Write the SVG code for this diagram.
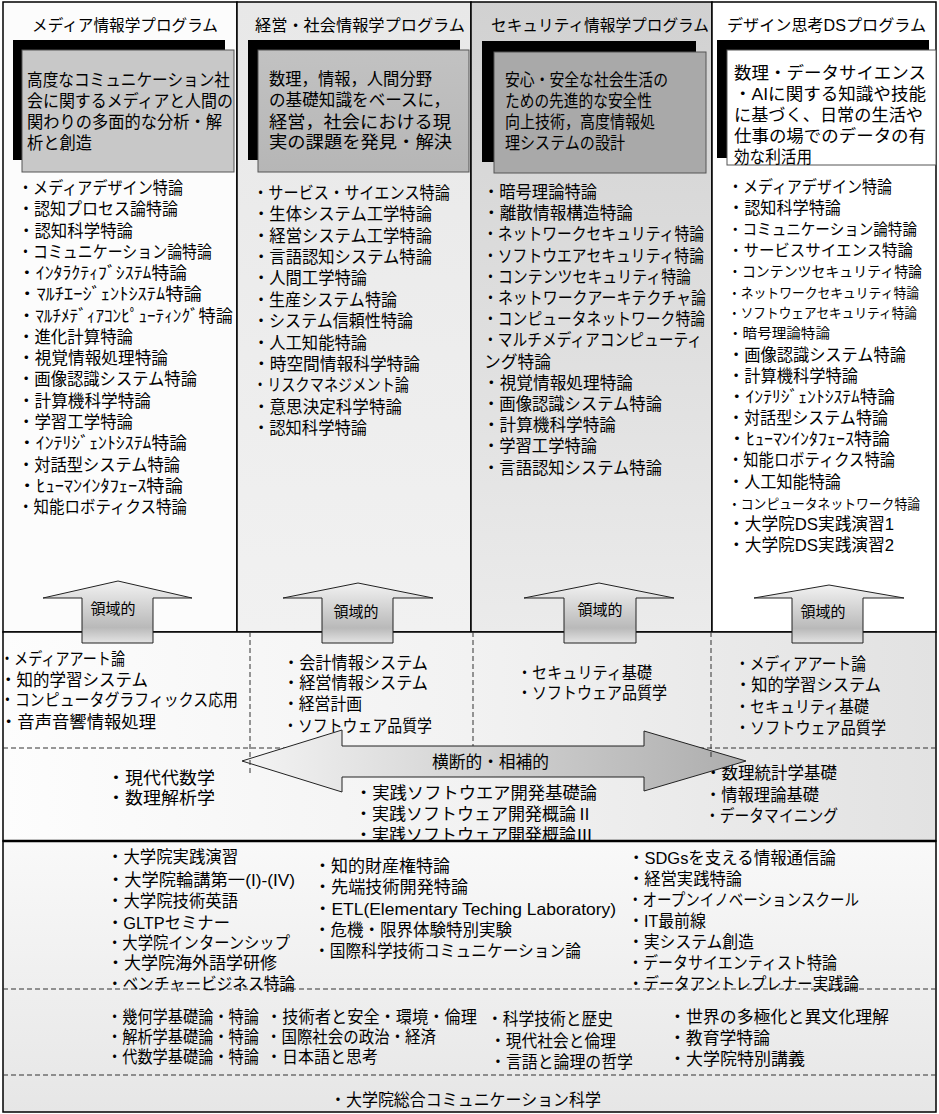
<svg xmlns="http://www.w3.org/2000/svg" width="939" height="1114" viewBox="0 0 939 1114">
<defs>
<style>
text{font-family:"Liberation Sans","Noto Sans CJK JP",sans-serif;fill:#000}
.hd{font-size:16px}
.bx{font-size:17px}
.li{font-size:17px}
.l4{font-size:16.5px}
.l4b{font-size:15.5px}
.l4c{font-size:14.5px}
.sm{font-size:13.5px}
.md{font-size:16.5px}
.lo{font-size:16.5px}
.lbl{font-size:15px}
.frame{stroke:#000;stroke-width:1.5}
.dash{stroke:#333;stroke-width:1;stroke-dasharray:5 3;fill:none}
.shadow{fill:#000}
.box{stroke:#555;stroke-width:1}
.arr{stroke:#222;stroke-width:1}
</style>
<linearGradient id="gCol2" x1="0" y1="0" x2="0" y2="1"><stop offset="0" stop-color="#e8e8e8"/><stop offset="1" stop-color="#f1f1f1"/></linearGradient>
<linearGradient id="gCol3" x1="0" y1="0" x2="0" y2="1"><stop offset="0" stop-color="#d1d1d1"/><stop offset="1" stop-color="#ebebeb"/></linearGradient>
<linearGradient id="gMid" x1="0" y1="0" x2="1" y2="0"><stop offset="0" stop-color="#fdfdfd"/><stop offset="0.5" stop-color="#f2f2f2"/><stop offset="1" stop-color="#e2e2e2"/></linearGradient>
<linearGradient id="gLow" x1="0" y1="0" x2="0" y2="1"><stop offset="0" stop-color="#f9f9f9"/><stop offset="1" stop-color="#e6e6e6"/></linearGradient>
<linearGradient id="gBox2" x1="0" y1="0" x2="0" y2="1"><stop offset="0" stop-color="#c2c2c2"/><stop offset="1" stop-color="#b6b6b6"/></linearGradient>
<linearGradient id="gArrV" x1="0" y1="0" x2="0" y2="1"><stop offset="0" stop-color="#f2f2f2"/><stop offset="0.75" stop-color="#b9b9b9"/><stop offset="1" stop-color="#e4e4e4"/></linearGradient>
<linearGradient id="gArrH" x1="0" y1="0" x2="1" y2="0"><stop offset="0" stop-color="#f4f4f4"/><stop offset="1" stop-color="#adadad"/></linearGradient>
</defs>

<g id="col-media">
<rect x="3" y="2" width="234" height="630" fill="#fcfcfc" class="frame"/>
<text class="hd" x="32" y="31" textLength="186" lengthAdjust="spacingAndGlyphs">メディア情報学プログラム</text>
<rect class="shadow" x="13" y="40" width="212" height="120"/>
<rect class="box" x="22" y="50" width="212" height="122" fill="#c8c8c8"/>
<text class="bx" x="27" y="86" textLength="203" lengthAdjust="spacingAndGlyphs">高度なコミュニケーション社</text>
<text class="bx" x="27" y="107" textLength="206" lengthAdjust="spacingAndGlyphs">会に関するメディアと人間の</text>
<text class="bx" x="27" y="128" textLength="195" lengthAdjust="spacingAndGlyphs">関わりの多面的な分析・解</text>
<text class="bx" x="27" y="149" textLength="65" lengthAdjust="spacingAndGlyphs">析と創造</text>
<text class="li" x="18" y="194" textLength="165" lengthAdjust="spacingAndGlyphs">・メディアデザイン特論</text>
<text class="li" x="18" y="215.3" textLength="160" lengthAdjust="spacingAndGlyphs">・認知プロセス論特論</text>
<text class="li" x="18" y="236.5" textLength="115" lengthAdjust="spacingAndGlyphs">・認知科学特論</text>
<text class="li" x="18" y="257.8" textLength="194" lengthAdjust="spacingAndGlyphs">・コミュニケーション論特論</text>
<text class="li" x="18" y="279.1" textLength="169" lengthAdjust="spacingAndGlyphs">・ｲﾝﾀﾗｸﾃｨﾌﾞｼｽﾃﾑ特論</text>
<text class="li" x="18" y="300.4" textLength="184" lengthAdjust="spacingAndGlyphs">・ﾏﾙﾁｴｰｼﾞｪﾝﾄｼｽﾃﾑ特論</text>
<text class="li" x="18" y="321.6" textLength="215" lengthAdjust="spacingAndGlyphs">・ﾏﾙﾁﾒﾃﾞｨｱｺﾝﾋﾟｭｰﾃｨﾝｸﾞ特論</text>
<text class="li" x="18" y="342.9" textLength="115" lengthAdjust="spacingAndGlyphs">・進化計算特論</text>
<text class="li" x="18" y="364.2" textLength="150" lengthAdjust="spacingAndGlyphs">・視覚情報処理特論</text>
<text class="li" x="18" y="385.4" textLength="179" lengthAdjust="spacingAndGlyphs">・画像認識システム特論</text>
<text class="li" x="18" y="406.7" textLength="133" lengthAdjust="spacingAndGlyphs">・計算機科学特論</text>
<text class="li" x="18" y="428" textLength="115" lengthAdjust="spacingAndGlyphs">・学習工学特論</text>
<text class="li" x="18" y="449.2" textLength="169" lengthAdjust="spacingAndGlyphs">・ｲﾝﾃﾘｼﾞｪﾝﾄｼｽﾃﾑ特論</text>
<text class="li" x="18" y="470.5" textLength="162" lengthAdjust="spacingAndGlyphs">・対話型システム特論</text>
<text class="li" x="18" y="491.8" textLength="165" lengthAdjust="spacingAndGlyphs">・ﾋｭｰﾏﾝｲﾝﾀﾌｪｰｽ特論</text>
<text class="li" x="18" y="513" textLength="169" lengthAdjust="spacingAndGlyphs">・知能ロボティクス特論</text>
</g>

<g id="col-management">
<rect x="237" y="2" width="234" height="630" fill="url(#gCol2)" class="frame"/>
<text class="hd" x="255" y="31" textLength="210" lengthAdjust="spacingAndGlyphs">経営・社会情報学プログラム</text>
<rect class="shadow" x="248" y="40" width="212" height="120"/>
<rect class="box" x="258" y="50" width="211" height="122" fill="url(#gBox2)"/>
<text class="bx" x="269" y="85" textLength="163" lengthAdjust="spacingAndGlyphs">数理，情報，人間分野</text>
<text class="bx" x="269" y="106" textLength="181" lengthAdjust="spacingAndGlyphs">の基礎知識をベースに，</text>
<text class="bx" x="269" y="128" textLength="182" lengthAdjust="spacingAndGlyphs">経営，社会における現</text>
<text class="bx" x="269" y="148" textLength="183" lengthAdjust="spacingAndGlyphs">実の課題を発見・解決</text>
<text class="li" x="253" y="199" textLength="197" lengthAdjust="spacingAndGlyphs">・サービス・サイエンス特論</text>
<text class="li" x="253" y="220.4" textLength="179" lengthAdjust="spacingAndGlyphs">・生体システム工学特論</text>
<text class="li" x="253" y="241.7" textLength="179" lengthAdjust="spacingAndGlyphs">・経営システム工学特論</text>
<text class="li" x="253" y="263.1" textLength="179" lengthAdjust="spacingAndGlyphs">・言語認知システム特論</text>
<text class="li" x="253" y="284.4" textLength="114" lengthAdjust="spacingAndGlyphs">・人間工学特論</text>
<text class="li" x="253" y="305.8" textLength="144" lengthAdjust="spacingAndGlyphs">・生産システム特論</text>
<text class="li" x="253" y="327.2" textLength="160" lengthAdjust="spacingAndGlyphs">・システム信頼性特論</text>
<text class="li" x="253" y="348.5" textLength="114" lengthAdjust="spacingAndGlyphs">・人工知能特論</text>
<text class="li" x="253" y="369.9" textLength="167" lengthAdjust="spacingAndGlyphs">・時空間情報科学特論</text>
<text class="li" x="253" y="391.2" textLength="156" lengthAdjust="spacingAndGlyphs">・リスクマネジメント論</text>
<text class="li" x="253" y="412.6" textLength="149" lengthAdjust="spacingAndGlyphs">・意思決定科学特論</text>
<text class="li" x="253" y="434" textLength="114" lengthAdjust="spacingAndGlyphs">・認知科学特論</text>
</g>

<g id="col-security">
<rect x="471" y="2" width="241" height="630" fill="url(#gCol3)" class="frame"/>
<text class="hd" x="491" y="31" textLength="218" lengthAdjust="spacingAndGlyphs">セキュリティ情報学プログラム</text>
<rect class="shadow" x="482" y="41" width="214" height="121"/>
<rect class="box" x="494" y="52" width="212" height="121" fill="#a9a9a9"/>
<text class="bx" x="505" y="86" textLength="163" lengthAdjust="spacingAndGlyphs">安心・安全な社会生活の</text>
<text class="bx" x="505" y="107" textLength="147" lengthAdjust="spacingAndGlyphs">ための先進的な安全性</text>
<text class="bx" x="505" y="128" textLength="150" lengthAdjust="spacingAndGlyphs">向上技術，高度情報処</text>
<text class="bx" x="505" y="149" textLength="120" lengthAdjust="spacingAndGlyphs">理システムの設計</text>
<text class="li" x="483" y="198" textLength="114" lengthAdjust="spacingAndGlyphs">・暗号理論特論</text>
<text class="li" x="483" y="219.2" textLength="150" lengthAdjust="spacingAndGlyphs">・離散情報構造特論</text>
<text class="li" x="483" y="240.4" textLength="221" lengthAdjust="spacingAndGlyphs">・ネットワークセキュリティ特論</text>
<text class="li" x="483" y="261.6" textLength="221" lengthAdjust="spacingAndGlyphs">・ソフトウエアセキュリティ特論</text>
<text class="li" x="483" y="282.8" textLength="208" lengthAdjust="spacingAndGlyphs">・コンテンツセキュリティ特論</text>
<text class="li" x="483" y="304" textLength="223" lengthAdjust="spacingAndGlyphs">・ネットワークアーキテクチャ論</text>
<text class="li" x="483" y="325.2" textLength="222" lengthAdjust="spacingAndGlyphs">・コンピュータネットワーク特論</text>
<text class="li" x="483" y="346.4" textLength="219" lengthAdjust="spacingAndGlyphs">・マルチメディアコンピューティ</text>
<text class="li" x="484" y="367.6" textLength="67" lengthAdjust="spacingAndGlyphs">ング特論</text>
<text class="li" x="483" y="388.8" textLength="150" lengthAdjust="spacingAndGlyphs">・視覚情報処理特論</text>
<text class="li" x="483" y="410" textLength="179" lengthAdjust="spacingAndGlyphs">・画像認識システム特論</text>
<text class="li" x="483" y="431.2" textLength="133" lengthAdjust="spacingAndGlyphs">・計算機科学特論</text>
<text class="li" x="483" y="452.4" textLength="114" lengthAdjust="spacingAndGlyphs">・学習工学特論</text>
<text class="li" x="483" y="473.6" textLength="179" lengthAdjust="spacingAndGlyphs">・言語認知システム特論</text>
</g>

<g id="col-design">
<rect x="712" y="2" width="224" height="630" fill="#ffffff" class="frame"/>
<text class="hd" x="727" y="31" textLength="199" lengthAdjust="spacingAndGlyphs">デザイン思考DSプログラム</text>
<rect class="shadow" x="717" y="40" width="212" height="118"/>
<rect class="box" x="727" y="50" width="209" height="115" fill="#ffffff"/>
<text class="bx" x="734" y="79" textLength="192" lengthAdjust="spacingAndGlyphs">数理・データサイエンス</text>
<text class="bx" x="734" y="100" textLength="192" lengthAdjust="spacingAndGlyphs">・AIに関する知識や技能</text>
<text class="bx" x="734" y="121" textLength="189" lengthAdjust="spacingAndGlyphs">に基づく、日常の生活や</text>
<text class="bx" x="734" y="142" textLength="192" lengthAdjust="spacingAndGlyphs">仕事の場でのデータの有</text>
<text class="bx" x="734" y="163" textLength="78" lengthAdjust="spacingAndGlyphs">効な利活用</text>
<text class="l4" x="728" y="193" textLength="164" lengthAdjust="spacingAndGlyphs">・メディアデザイン特論</text>
<text class="l4" x="728" y="214.1" textLength="113" lengthAdjust="spacingAndGlyphs">・認知科学特論</text>
<text class="l4b" x="728" y="235.1" textLength="189" lengthAdjust="spacingAndGlyphs">・コミュニケーション論特論</text>
<text class="l4b" x="728" y="256.2" textLength="185" lengthAdjust="spacingAndGlyphs">・サービスサイエンス特論</text>
<text class="l4c" x="728" y="277.2" textLength="194" lengthAdjust="spacingAndGlyphs">・コンテンツセキュリティ特論</text>
<text class="sm" x="728" y="298.3" textLength="191" lengthAdjust="spacingAndGlyphs">・ネットワークセキュリティ特論</text>
<text class="sm" x="728" y="318.4" textLength="189" lengthAdjust="spacingAndGlyphs">・ソフトウェアセキュリティ特論</text>
<text class="sm" x="728" y="338.4" textLength="102" lengthAdjust="spacingAndGlyphs">・暗号理論特論</text>
<text class="l4" x="728" y="360.5" textLength="178" lengthAdjust="spacingAndGlyphs">・画像認識システム特論</text>
<text class="l4" x="728" y="381.5" textLength="130" lengthAdjust="spacingAndGlyphs">・計算機科学特論</text>
<text class="l4" x="728" y="403" textLength="167" lengthAdjust="spacingAndGlyphs">・ｲﾝﾃﾘｼﾞｪﾝﾄｼｽﾃﾑ特論</text>
<text class="l4" x="728" y="424.2" textLength="160" lengthAdjust="spacingAndGlyphs">・対話型システム特論</text>
<text class="l4" x="728" y="445.2" textLength="162" lengthAdjust="spacingAndGlyphs">・ﾋｭｰﾏﾝｲﾝﾀﾌｪｰｽ特論</text>
<text class="l4" x="728" y="466.3" textLength="167" lengthAdjust="spacingAndGlyphs">・知能ロボティクス特論</text>
<text class="l4" x="728" y="487.8" textLength="113" lengthAdjust="spacingAndGlyphs">・人工知能特論</text>
<text class="sm" x="728" y="508.9" textLength="192" lengthAdjust="spacingAndGlyphs">・コンピュータネットワーク特論</text>
<text class="l4" x="728" y="530" textLength="166" lengthAdjust="spacingAndGlyphs">・大学院DS実践演習1</text>
<text class="l4" x="728" y="551" textLength="166" lengthAdjust="spacingAndGlyphs">・大学院DS実践演習2</text>
</g>

<g id="common-domain">
<rect x="3" y="632" width="933" height="209" fill="url(#gMid)" class="frame"/>
<line class="dash" x1="3" y1="748" x2="936" y2="748"/>
<line class="dash" x1="473" y1="632" x2="473" y2="760"/>
<text class="md" x="0" y="665" textLength="125" lengthAdjust="spacingAndGlyphs">・メディアアート論</text>
<text class="md" x="0" y="686" textLength="148" lengthAdjust="spacingAndGlyphs">・知的学習システム</text>
<text class="md" x="0" y="706" textLength="238" lengthAdjust="spacingAndGlyphs">・コンピュータグラフィックス応用</text>
<text class="md" x="0" y="728" textLength="156" lengthAdjust="spacingAndGlyphs">・音声音響情報処理</text>
<text class="md" x="283" y="669" textLength="145" lengthAdjust="spacingAndGlyphs">・会計情報システム</text>
<text class="md" x="283" y="689" textLength="145" lengthAdjust="spacingAndGlyphs">・経営情報システム</text>
<text class="md" x="283" y="710" textLength="79" lengthAdjust="spacingAndGlyphs">・経営計画</text>
<text class="md" x="283" y="732" textLength="149" lengthAdjust="spacingAndGlyphs">・ソフトウェア品質学</text>
<text class="md" x="517" y="679" textLength="135" lengthAdjust="spacingAndGlyphs">・セキュリティ基礎</text>
<text class="md" x="517" y="699" textLength="150" lengthAdjust="spacingAndGlyphs">・ソフトウェア品質学</text>
<text class="md" x="735" y="670" textLength="131" lengthAdjust="spacingAndGlyphs">・メディアアート論</text>
<text class="md" x="735" y="691" textLength="146" lengthAdjust="spacingAndGlyphs">・知的学習システム</text>
<text class="md" x="735" y="713" textLength="134" lengthAdjust="spacingAndGlyphs">・セキュリティ基礎</text>
<text class="md" x="735" y="734" textLength="151" lengthAdjust="spacingAndGlyphs">・ソフトウェア品質学</text>
<text class="md" x="107" y="784" textLength="108" lengthAdjust="spacingAndGlyphs">・現代代数学</text>
<text class="md" x="107" y="804" textLength="108" lengthAdjust="spacingAndGlyphs">・数理解析学</text>
<text class="md" x="355" y="799" textLength="242" lengthAdjust="spacingAndGlyphs">・実践ソフトウエア開発基礎論</text>
<text class="md" x="355" y="820" textLength="238" lengthAdjust="spacingAndGlyphs">・実践ソフトウェア開発概論Ⅱ</text>
<text class="md" x="355" y="841" textLength="238" lengthAdjust="spacingAndGlyphs">・実践ソフトウェア開発概論Ⅲ</text>
<text class="md" x="705" y="779" textLength="132" lengthAdjust="spacingAndGlyphs">・数理統計学基礎</text>
<text class="md" x="705" y="801" textLength="114" lengthAdjust="spacingAndGlyphs">・情報理論基礎</text>
<text class="md" x="705" y="822" textLength="133" lengthAdjust="spacingAndGlyphs">・データマイニング</text>
</g>

<g id="common-basic">
<rect x="3" y="841" width="933" height="271" fill="url(#gLow)" class="frame"/>
<line x1="3" y1="841" x2="936" y2="841" stroke="#000" stroke-width="2.5"/>
<line class="dash" x1="3" y1="989" x2="936" y2="989" stroke-dasharray="6 4"/>
<line class="dash" x1="3" y1="1075" x2="936" y2="1075" stroke-dasharray="6 4"/>
<text class="lo" x="107" y="863" textLength="131" lengthAdjust="spacingAndGlyphs">・大学院実践演習</text>
<text class="lo" x="107" y="886" textLength="188" lengthAdjust="spacingAndGlyphs">・大学院輪講第一(I)-(IV)</text>
<text class="lo" x="107" y="907" textLength="131" lengthAdjust="spacingAndGlyphs">・大学院技術英語</text>
<text class="lo" x="107" y="929" textLength="123" lengthAdjust="spacingAndGlyphs">・GLTPセミナー</text>
<text class="lo" x="107" y="949" textLength="183" lengthAdjust="spacingAndGlyphs">・大学院インターンシップ</text>
<text class="lo" x="107" y="969" textLength="170" lengthAdjust="spacingAndGlyphs">・大学院海外語学研修</text>
<text class="lo" x="107" y="990" textLength="188" lengthAdjust="spacingAndGlyphs">・ベンチャービジネス特論</text>
<text class="lo" x="314" y="872" textLength="136" lengthAdjust="spacingAndGlyphs">・知的財産権特論</text>
<text class="lo" x="314" y="893" textLength="154" lengthAdjust="spacingAndGlyphs">・先端技術開発特論</text>
<text class="lo" x="314" y="915" textLength="302" lengthAdjust="spacingAndGlyphs">・ETL(Elementary Teching Laboratory)</text>
<text class="lo" x="314" y="936" textLength="198" lengthAdjust="spacingAndGlyphs">・危機・限界体験特別実験</text>
<text class="lo" x="314" y="957" textLength="267" lengthAdjust="spacingAndGlyphs">・国際科学技術コミュニケーション論</text>
<text class="lo" x="628" y="864" textLength="208" lengthAdjust="spacingAndGlyphs">・SDGsを支える情報通信論</text>
<text class="lo" x="628" y="885" textLength="114" lengthAdjust="spacingAndGlyphs">・経営実践特論</text>
<text class="lo" x="628" y="906" textLength="231" lengthAdjust="spacingAndGlyphs">・オープンイノベーションスクール</text>
<text class="lo" x="628" y="927" textLength="78" lengthAdjust="spacingAndGlyphs">・IT最前線</text>
<text class="lo" x="628" y="948" textLength="126" lengthAdjust="spacingAndGlyphs">・実システム創造</text>
<text class="lo" x="628" y="969" textLength="209" lengthAdjust="spacingAndGlyphs">・データサイエンティスト特論</text>
<text class="lo" x="628" y="990" textLength="231" lengthAdjust="spacingAndGlyphs">・データアントレプレナー実践論</text>
<text class="lo" x="107" y="1023" textLength="152" lengthAdjust="spacingAndGlyphs">・幾何学基礎論・特論</text>
<text class="lo" x="107" y="1043" textLength="152" lengthAdjust="spacingAndGlyphs">・解析学基礎論・特論</text>
<text class="lo" x="107" y="1063" textLength="152" lengthAdjust="spacingAndGlyphs">・代数学基礎論・特論</text>
<text class="lo" x="266" y="1023" textLength="211" lengthAdjust="spacingAndGlyphs">・技術者と安全・環境・倫理</text>
<text class="lo" x="266" y="1043" textLength="170" lengthAdjust="spacingAndGlyphs">・国際社会の政治・経済</text>
<text class="lo" x="266" y="1063" textLength="112" lengthAdjust="spacingAndGlyphs">・日本語と思考</text>
<text class="lo" x="487" y="1025" textLength="126" lengthAdjust="spacingAndGlyphs">・科学技術と歴史</text>
<text class="lo" x="490" y="1047" textLength="126" lengthAdjust="spacingAndGlyphs">・現代社会と倫理</text>
<text class="lo" x="490" y="1068" textLength="143" lengthAdjust="spacingAndGlyphs">・言語と論理の哲学</text>
<text class="lo" x="669" y="1023" textLength="220" lengthAdjust="spacingAndGlyphs">・世界の多極化と異文化理解</text>
<text class="lo" x="669" y="1044" textLength="101" lengthAdjust="spacingAndGlyphs">・教育学特論</text>
<text class="lo" x="669" y="1065" textLength="136" lengthAdjust="spacingAndGlyphs">・大学院特別講義</text>
<text class="lo" x="330" y="1106" textLength="271" lengthAdjust="spacingAndGlyphs">・大学院総合コミュニケーション科学</text>
</g>

<g id="connectors">
<polygon class="arr" fill="url(#gArrV)" points="118,581 192,598 153,598 153,643 82,643 82,598 43,598"/>
<polygon class="arr" fill="url(#gArrV)" points="358,583 433,598 393,598 393,643 322,643 322,598 283,598"/>
<polygon class="arr" fill="url(#gArrV)" points="599,583 674,598 636,598 636,643 564,643 564,598 524,598"/>
<polygon class="arr" fill="url(#gArrV)" points="829,585 904,598 863,598 863,643 792,643 792,598 754,598"/>
<text class="lbl" x="113" y="614" text-anchor="middle">領域的</text>
<text class="lbl" x="356" y="617" text-anchor="middle">領域的</text>
<text class="lbl" x="600" y="615" text-anchor="middle">領域的</text>
<text class="lbl" x="823" y="617" text-anchor="middle">領域的</text>
<polygon class="arr" fill="url(#gArrH)" points="242,761 342,730 342,746 644,746 644,731 746,761 644,791 644,777 342,777 342,792"/>
<text class="md" x="432" y="768" textLength="117" lengthAdjust="spacingAndGlyphs">横断的・相補的</text>
</g>

<g id="domain-dividers">
<line class="dash" x1="250" y1="632" x2="250" y2="776"/>
<line class="dash" x1="711" y1="632" x2="711" y2="760"/>
</g>
</svg>
